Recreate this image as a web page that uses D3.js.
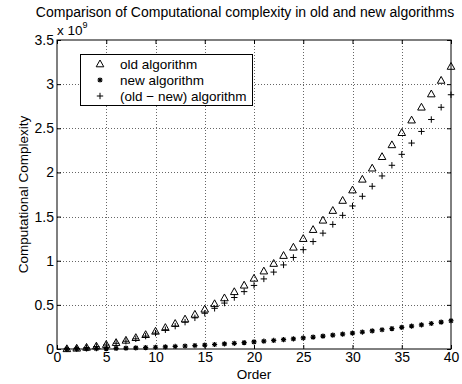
<!DOCTYPE html>
<html>
<head>
<meta charset="utf-8">
<script src="https://d3js.org/d3.v7.min.js"></script>
<style>
  body { margin: 0; background: #fff; }
  svg { display: block; font-family: "Liberation Sans", Arial, sans-serif; }
</style>
</head>
<body>
<script>
// values, in units of 1e9
const order = d3.range(1, 41);
const oldAlg = [0.002, 0.008, 0.018, 0.032, 0.05, 0.072, 0.098, 0.128, 0.162, 0.2,
  0.242, 0.288, 0.338, 0.392, 0.45, 0.512, 0.578, 0.648, 0.722, 0.8,
  0.882, 0.968, 1.058, 1.152, 1.25, 1.352, 1.458, 1.568, 1.682, 1.8,
  1.922, 2.048, 2.178, 2.312, 2.45, 2.592, 2.738, 2.888, 3.042, 3.2];
const newAlg = [0.0002, 0.0008, 0.0018, 0.0032, 0.005, 0.0072, 0.0098, 0.0128, 0.0162, 0.02,
  0.0242, 0.0288, 0.0338, 0.0392, 0.045, 0.0512, 0.0578, 0.0648, 0.0722, 0.08,
  0.0882, 0.0968, 0.1058, 0.1152, 0.125, 0.1352, 0.1458, 0.1568, 0.1682, 0.18,
  0.1922, 0.2048, 0.2178, 0.2312, 0.245, 0.2592, 0.2738, 0.2888, 0.3042, 0.32];
const diffAlg = [0.0018, 0.0072, 0.0162, 0.0288, 0.045, 0.0648, 0.0882, 0.1152, 0.1458, 0.18,
  0.2178, 0.2592, 0.3042, 0.3528, 0.405, 0.4608, 0.5202, 0.5832, 0.6498, 0.72,
  0.7938, 0.8712, 0.9522, 1.0368, 1.125, 1.2168, 1.3122, 1.4112, 1.5138, 1.62,
  1.7298, 1.8432, 1.9602, 2.0808, 2.205, 2.3328, 2.4642, 2.5992, 2.7378, 2.88];
const xTicks = [0, 5, 10, 15, 20, 25, 30, 35, 40];
const yTicks = [0, 0.5, 1, 1.5, 2, 2.5, 3, 3.5];
const legendLabels = ['old algorithm', 'new algorithm', '(old \u2212 new) algorithm'];

const W = 462, H = 384;
const L = 57, R = 451, T = 40, B = 349;

const svg = d3.select('body').append('svg')
  .attr('width', W).attr('height', H);
svg.append('rect').attr('width', W).attr('height', H).attr('fill', '#fff');

const x = d3.scaleLinear().domain([0, 40]).range([L, R]);
const y = d3.scaleLinear().domain([0, 3.5]).range([B, T]);

// grid
const grid = svg.append('g').attr('stroke', '#666').attr('stroke-dasharray', '1,2').attr('stroke-width', 1);
grid.selectAll('.gx').data(xTicks.slice(1, -1)).enter().append('line')
  .attr('x1', d => Math.round(x(d)) + 0.5).attr('x2', d => Math.round(x(d)) + 0.5)
  .attr('y1', T).attr('y2', B);
grid.selectAll('.gy').data(yTicks.slice(1, -1)).enter().append('line')
  .attr('y1', d => Math.round(y(d)) + 0.5).attr('y2', d => Math.round(y(d)) + 0.5)
  .attr('x1', L).attr('x2', R);

// axes with inward ticks on all sides
const fmt = d => d3.format('~g')(d);
const xAxisB = d3.axisBottom(x).tickValues(xTicks).tickSizeInner(-4).tickSizeOuter(0).tickPadding(3).tickFormat(fmt);
const xAxisT = d3.axisTop(x).tickValues(xTicks).tickSizeInner(-4).tickSizeOuter(0).tickFormat('');
const yAxisL = d3.axisLeft(y).tickValues(yTicks).tickSizeInner(-4).tickSizeOuter(0).tickPadding(3).tickFormat(fmt);
const yAxisR = d3.axisRight(y).tickValues(yTicks).tickSizeInner(-4).tickSizeOuter(0).tickFormat('');

function styleAxis(g) {
  g.select('.domain').remove();
  g.selectAll('line').attr('stroke', '#000');
  g.selectAll('text').attr('fill', '#000').style('font-size', '14px');
}
svg.append('g').attr('transform', `translate(0,${B})`).call(xAxisB).call(styleAxis);
svg.append('g').attr('transform', `translate(0,${T})`).call(xAxisT).call(styleAxis);
svg.append('g').attr('transform', `translate(${L},0)`).call(yAxisL).call(styleAxis);
svg.append('g').attr('transform', `translate(${R},0)`).call(yAxisR).call(styleAxis);

svg.append('rect').attr('x', L).attr('y', T).attr('width', R - L).attr('height', B - T)
  .attr('fill', 'none').attr('stroke', '#000').attr('stroke-width', 1);

// markers
function triangle(g) {
  g.append('path').attr('d', 'M0,-4L3.8,2.8L-3.8,2.8Z')
    .attr('fill', 'none').attr('stroke', '#000').attr('stroke-width', 1);
}
function star(g) {
  g.append('path').attr('d', 'M-2.6,0L2.6,0M0,-2.6L0,2.6M-1.9,-1.9L1.9,1.9M-1.9,1.9L1.9,-1.9')
    .attr('stroke', '#000').attr('stroke-width', 1.2);
}
function plus(g) {
  g.append('path').attr('d', 'M-3.2,0L3.2,0M0,-3.2L0,3.2')
    .attr('stroke', '#000').attr('stroke-width', 1);
}

const series = [
  { vals: oldAlg, mark: triangle },
  { vals: newAlg, mark: star },
  { vals: diffAlg, mark: plus }
];
series.forEach(s => {
  svg.append('g').selectAll('g').data(order).enter().append('g')
    .attr('transform', (d, i) => `translate(${x(d)},${y(s.vals[i])})`)
    .each(function () { s.mark(d3.select(this)); });
});

// legend
const lg = svg.append('g');
lg.append('rect').attr('x', 80.5).attr('y', 54.5).attr('width', 172).attr('height', 51)
  .attr('fill', '#fff').attr('stroke', '#000');
legendLabels.forEach((t, i) => {
  const cy = 64 + i * 16;
  const m = lg.append('g').attr('transform', `translate(100,${cy})`);
  series[i].mark(m);
  lg.append('text').attr('x', 120).attr('y', cy + 5).text(t).style('font-size', '13.5px');
});

// titles
const title = svg.append('text').attr('x', 245).attr('y', 17).attr('text-anchor', 'middle')
  .style('font-size', '13px').text('Comparison of Computational complexity in old and new algorithms');
const tl = title.node().getComputedTextLength();
title.style('font-size', (13 * 419 / tl) + 'px');
svg.append('text').attr('x', 254).attr('y', 379).attr('text-anchor', 'middle')
  .style('font-size', '13.5px').text('Order');
svg.append('text').attr('transform', `translate(28,${(T + B) / 2}) rotate(-90)`)
  .attr('text-anchor', 'middle').style('font-size', '13.5px').text('Computational Complexity');
const ex = svg.append('text').attr('x', 57).attr('y', 35).style('font-size', '13.5px');
ex.append('tspan').text('x 10');
ex.append('tspan').attr('dy', -7).style('font-size', '9px').text('9');
</script>
</body>
</html>
